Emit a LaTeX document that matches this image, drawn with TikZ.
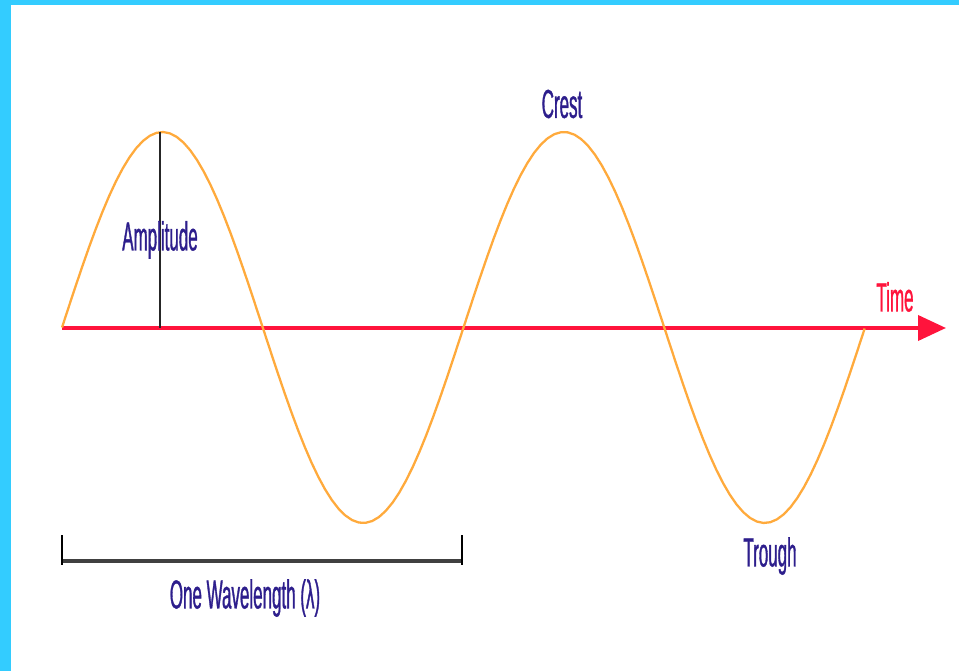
\documentclass[tikz,border=0pt]{standalone}
\usepackage{fontspec}
\setmainfont{Liberation Sans}
\newfontfamily\wavefont{Liberation Sans}[FakeStretch=0.42,FakeBold=0.8]
\usetikzlibrary{arrows.meta,calc,positioning}
\definecolor{framecyan}{RGB}{51,204,255}
\definecolor{waveorange}{RGB}{255,170,60}
\definecolor{timered}{RGB}{255,20,60}
\definecolor{labelblue}{RGB}{45,30,140}
\tikzset{
  lbl/.style={font=\wavefont\fontsize{23}{23}\selectfont, text=labelblue, inner sep=0pt},
  timelbl/.style={lbl, text=timered}
}

\begin{document}
\begin{tikzpicture}[x=0.02cm,y=-0.02cm,>=Stealth]
  \useasboundingbox (0,0) rectangle (959,671);
  \fill[framecyan] (0,0) rectangle (959,5);
  \fill[framecyan] (0,0) rectangle (11,671);
  % axis and wave
  \coordinate (start) at (62,328);
  \coordinate (tip) at (946,328);
  \coordinate (peak) at (160,132);
  \coordinate (foot) at (160,328);
  \draw[timered, line width=2.2pt, -{Triangle[length=0.56cm,width=0.5cm]}] (start) -- (tip);
  \draw[waveorange, line width=1.3pt] plot[domain=0:2, samples=120] ({62+401.5*\x},{327.5-195.5*sin(360*\x)});
  \draw[black!85, line width=1pt] (peak) -- (foot);
  % wavelength bracket
  \coordinate (wl) at (62,561);
  \coordinate (wr) at (462,561);
  \draw[black!75, line width=2.2pt] (wl) -- (wr);
  \draw[black, line width=0.9pt] ($(wl)+(0,-26)$) -- ($(wl)+(0,4)$);
  \draw[black, line width=0.9pt] ($(wr)+(0,-26)$) -- ($(wr)+(0,4)$);
  % labels
  \node[lbl] (amp) at (160,240) {Amplitude};
  \node[lbl] (crest) at (562,104) {Crest};
  \node[timelbl] (time) at (895,297) {Time};
  \node[lbl] (trough) at (770,556) {Trough};
  \node[lbl] (wave) at (245,598) {One Wavelength (λ)};
\end{tikzpicture}
\end{document}
